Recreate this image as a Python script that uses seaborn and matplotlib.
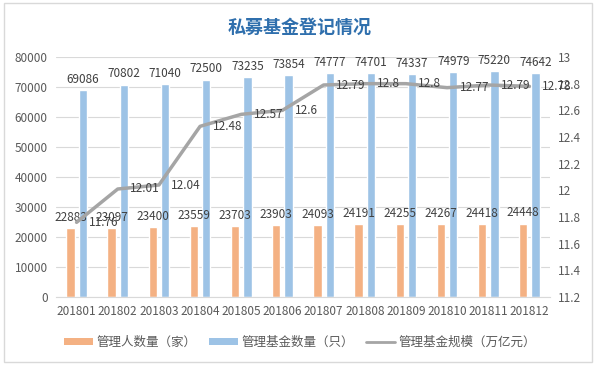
import matplotlib
matplotlib.use("Agg")
import matplotlib.pyplot as plt
import numpy as np
import seaborn as sns
from matplotlib.lines import Line2D
from matplotlib.patches import Patch, Rectangle

months = ["201801", "201802", "201803", "201804", "201805", "201806",
          "201807", "201808", "201809", "201810", "201811", "201812"]
managers = [22883, 23097, 23400, 23559, 23703, 23903, 24093, 24191, 24255, 24267, 24418, 24448]
funds = [69086, 70802, 71040, 72500, 73235, 73854, 74777, 74701, 74337, 74979, 75220, 74642]
scale = [11.76, 12.01, 12.04, 12.48, 12.57, 12.6, 12.79, 12.8, 12.8, 12.77, 12.79, 12.78]

name_managers = "管理人数量（家）"
name_funds = "管理基金数量（只）"
name_scale = "管理基金规模（万亿元）"

c_orange = "#f4b183"
c_blue = "#9dc3e6"
c_gray = "#a5a5a5"
c_text = "#595959"

sns.set_style("white")
plt.rcParams["font.family"] = ["Noto Sans CJK SC", "DejaVu Sans"]
plt.rcParams["axes.unicode_minus"] = False

fig = plt.figure(figsize=(6, 3.7), dpi=100)
ax = fig.add_axes([56 / 600, 73 / 370, 494 / 600, 240 / 370])

# 两组柱子：管理人数量在左，管理基金数量在右
idx = np.arange(len(months))
sns.barplot(x=idx - 0.15, y=managers, native_scale=True, width=0.2, color=c_orange,
            saturation=1, errorbar=None, ax=ax)
sns.barplot(x=idx + 0.15, y=funds, native_scale=True, width=0.2, color=c_blue,
            saturation=1, errorbar=None, ax=ax)
for cont in ax.containers:
    ax.bar_label(cont, padding=3, fontsize=8.5, color="#404040")

ax.set_xlim(-0.5, len(months) - 0.5)
ax.set_ylim(0, 80000)
ax.set_yticks(np.arange(0, 80001, 10000))
ax.set_xticks(idx)
ax.set_xticklabels(months)
ax.yaxis.grid(True, color="#d9d9d9", linewidth=0.8)
ax.set_axisbelow(True)
ax.tick_params(length=0, labelsize=8.5, labelcolor=c_text, pad=6)
for side in ["top", "left", "right"]:
    ax.spines[side].set_visible(False)
ax.spines["bottom"].set_color("#d9d9d9")
ax.set_xlabel("")
ax.set_ylabel("")

# 次坐标轴：管理基金规模
ax2 = ax.twinx()
sns.lineplot(x=idx, y=scale, color=c_gray, linewidth=2.5, ax=ax2)
for x, v in zip(idx, scale):
    ax2.annotate(f"{v:g}", (x, v), xytext=(9, 0), textcoords="offset points",
                 ha="left", va="center", fontsize=8.5, color="#404040")
ax2.set_ylim(11.2, 13)
ticks2 = np.round(np.arange(11.2, 13.01, 0.2), 1)
ax2.set_yticks(ticks2)
ax2.set_yticklabels([f"{t:g}" for t in ticks2])
ax2.tick_params(length=0, labelsize=8.5, labelcolor=c_text, pad=6)
for side in ["top", "left", "right", "bottom"]:
    ax2.spines[side].set_visible(False)
ax2.set_xlabel("")
ax2.set_ylabel("")

fig.text(0.5, 1 - 27 / 370, "私募基金登记情况", ha="center", va="center",
         fontsize=13, fontweight="bold", color="#2f6fad")

handles = [
    Patch(facecolor=c_orange, edgecolor="none", label=name_managers),
    Patch(facecolor=c_blue, edgecolor="none", label=name_funds),
    Line2D([0], [0], color=c_gray, linewidth=2, label=name_scale),
]
fig.legend(handles=handles, loc="center", bbox_to_anchor=(0.5, 1 - 342 / 370), ncol=3,
           frameon=False, fontsize=9, labelcolor=c_text, handlelength=2.3,
           handleheight=0.5, columnspacing=1.0, handletextpad=0.3)

fig.add_artist(Rectangle((4 / 600, 1 - 362 / 370), 588 / 600, 359 / 370,
                         transform=fig.transFigure, fill=False,
                         edgecolor="#d9d9d9", linewidth=1))

fig.savefig("out.png", dpi=100)
